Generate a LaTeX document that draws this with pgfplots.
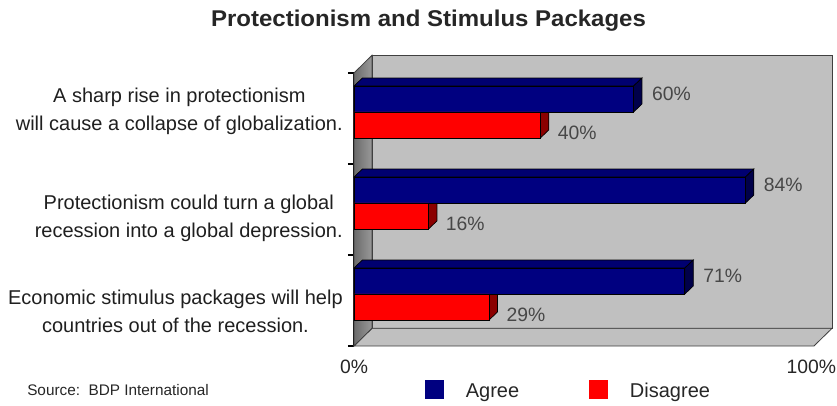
\documentclass[border=0pt]{standalone}
\usepackage{pgfplots}
\pgfplotsset{compat=1.18}
\usepackage{fontspec}
\setmainfont{Liberation Sans}
\definecolor{agree}{HTML}{000080}
\definecolor{agreeside}{HTML}{00004A}
\definecolor{agreetop}{HTML}{000070}
\definecolor{dis}{HTML}{FF0000}
\definecolor{disside}{HTML}{8B0000}
\definecolor{wall}{HTML}{C0C0C0}
\begin{document}
\begin{tikzpicture}
\begin{axis}[
  at={(0,0)}, anchor=origin,
  x=3.495pt, y=68.25pt,
  xmin=0, xmax=100, ymin=0, ymax=3,
  clip=false,
  /pgf/number format/assume math mode=true,
  axis x line*=bottom, axis y line*=left,
  x axis line style={draw=none},
  y axis line style={black, line width=0.8pt},
  xtick={0,100}, xticklabels={0\%,\hspace*{-13pt}100\%},
  xticklabel style={font=\fontsize{14.5}{16}\selectfont, text=black!85, inner sep=0pt, yshift=-10.5pt},
  major tick length=0pt,
  major x tick style={draw=none},
  major y tick style={draw=none},
  ytick={0.385,1.407,2.582},
  yticklabels={{Economic stimulus packages will help\\countries out of the recession.},
               {Protectionism could turn a global\\recession into a global depression.},
               {A sharp rise in protectionism\\will cause a collapse of globalization.}},
  yticklabel style={align=center, font=\fontsize{15}{21}\selectfont, text=black!88, inner sep=0pt, xshift=-8.25pt},
  minor ytick={0,1,2,3}, minor tick length=4.5pt, tick align=outside,
  minor y tick style={black, line width=0.8pt},
  legend style={draw=none, fill=none, legend columns=2,
    at={(axis cs:15.24,-0.482)}, anchor=west, inner sep=0pt, outer sep=0pt,
    font=\fontsize{15}{18}\selectfont, text=black!85,
    /tikz/every odd column/.append style={column sep=16.5pt},
    /tikz/every even column/.append style={column sep=52.5pt},
    /tikz/column 3/.append style={column sep=11.25pt},
    nodes={inner sep=0pt}},
  legend cell align=left,
]
% walls
\addplot[forget plot, fill=wall, draw=black!75, line width=0.6pt]
  coordinates {(3.86,0.195) (102.6,0.195) (102.6,3.195) (3.86,3.195)} -- cycle;
\addplot[forget plot, fill=wall, draw=black!75, line width=0.6pt]
  coordinates {(0,0) (98.7,0) (102.6,0.195) (3.86,0.195)} -- cycle;
\addplot[forget plot, left color=black!58, right color=black!40, draw=black!75, line width=0.6pt]
  coordinates {(0,0) (0,3) (3.86,3.195) (3.86,0.195)} -- cycle;
% disagree side faces
\addplot[forget plot, fill=disside, draw=black, line width=0.5pt]
  coordinates {(40,2.286) (40,2.571) (41.8,2.659) (41.8,2.374)} -- cycle;
\addplot[forget plot, fill=disside, draw=black, line width=0.5pt]
  coordinates {(16,1.286) (16,1.571) (17.8,1.659) (17.8,1.374)} -- cycle;
\addplot[forget plot, fill=disside, draw=black, line width=0.5pt]
  coordinates {(29,0.286) (29,0.571) (30.8,0.659) (30.8,0.374)} -- cycle;
% agree top and side faces
\addplot[forget plot, fill=agreetop, draw=black, line width=0.5pt]
  coordinates {(0,2.857) (60,2.857) (61.8,2.945) (1.8,2.945)} -- cycle;
\addplot[forget plot, fill=agreeside, draw=black, line width=0.5pt]
  coordinates {(60,2.571) (60,2.857) (61.8,2.945) (61.8,2.659)} -- cycle;
\addplot[forget plot, fill=agreetop, draw=black, line width=0.5pt]
  coordinates {(0,1.857) (84,1.857) (85.8,1.945) (1.8,1.945)} -- cycle;
\addplot[forget plot, fill=agreeside, draw=black, line width=0.5pt]
  coordinates {(84,1.571) (84,1.857) (85.8,1.945) (85.8,1.659)} -- cycle;
\addplot[forget plot, fill=agreetop, draw=black, line width=0.5pt]
  coordinates {(0,0.857) (71,0.857) (72.8,0.945) (1.8,0.945)} -- cycle;
\addplot[forget plot, fill=agreeside, draw=black, line width=0.5pt]
  coordinates {(71,0.571) (71,0.857) (72.8,0.945) (72.8,0.659)} -- cycle;
% front faces
\addplot[xbar, bar width=0.286, bar shift=0pt, fill=agree, draw=black, line width=0.6pt,
  point meta=x, nodes near coords={\pgfmathprintnumber{\pgfplotspointmeta}\%},
  every node near coord/.append style={font=\fontsize{14.5}{16}\selectfont, text=black!72, inner sep=0pt, anchor=west, xshift=13.5pt, yshift=3.75pt},
  legend image code/.code={\fill[agree] (0pt,-5.25pt) rectangle (13.5pt,8.25pt);}]
  coordinates {(60,2.714) (84,1.714) (71,0.714)};
\addlegendentry{Agree}
\addplot[xbar, bar width=0.286, bar shift=0pt, fill=dis, draw=black, line width=0.6pt,
  point meta=x, nodes near coords={\pgfmathprintnumber{\pgfplotspointmeta}\%},
  every node near coord/.append style={font=\fontsize{14.5}{16}\selectfont, text=black!72, inner sep=0pt, anchor=west, xshift=12.75pt, yshift=-5.8pt},
  legend image code/.code={\fill[dis] (0pt,-5.25pt) rectangle (13.5pt,8.25pt);}]
  coordinates {(40,2.429) (16,1.429) (29,0.429)};
\addlegendentry{Disagree}
\end{axis}
\node[font=\bfseries\fontsize{18}{20}\selectfont, yscale=0.95, text=black!85] at (55.9pt,244.1pt) {Protectionism and Stimulus Packages};
\node[anchor=west, font=\fontsize{11.5}{13}\selectfont, inner sep=0pt, text=black!85] at (-245.25pt,-33pt) {Source:\ \ BDP International};
\pgfresetboundingbox
\useasboundingbox (-265.5pt,-45pt) rectangle (362.25pt,259.5pt);
\end{tikzpicture}
\end{document}
